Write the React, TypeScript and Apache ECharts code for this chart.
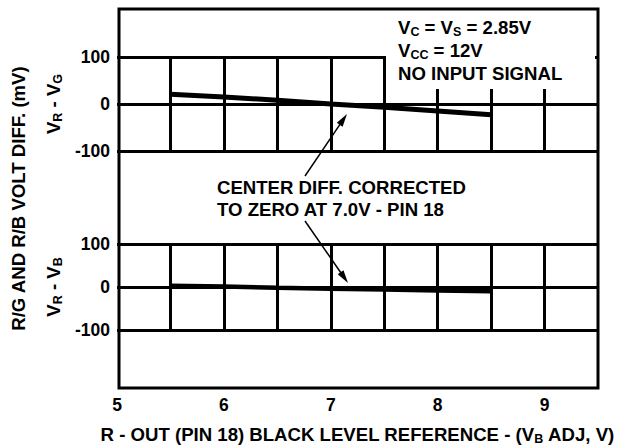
import React, { useEffect, useRef } from "react";
import * as echarts from "echarts";

// Data
const X_VALUES = [5.5, 6, 6.5, 7, 7.5, 8, 8.5];
const RG_DIFF = [21, 15, 8, 0, -7, -15, -23]; // V_R - V_G (mV)
const RB_DIFF = [3, 1, -2, -4, -6, -8, -10]; // V_R - V_B (mV)
const X_MIN = 5;
const X_MAX = 9.5;
const X_STEP = 0.5;
const Y_MIN = -100;
const Y_MAX = 100;
const Y_STEP = 100;

const FONT = "'Liberation Sans', Arial, Helvetica, sans-serif";

const richStyles = {
  a: { fontSize: 18.6, fontWeight: "bold", fontFamily: FONT, color: "#000", lineHeight: 22 },
  s: { fontSize: 12.5, fontWeight: "bold", fontFamily: FONT, color: "#000", lineHeight: 13, verticalAlign: "bottom" },
};

function arrow(x1: number, y1: number, x2: number, y2: number) {
  const L = 13;
  const w = 3.5;
  const dx = x2 - x1;
  const dy = y2 - y1;
  const len = Math.sqrt(dx * dx + dy * dy);
  const ux = dx / len;
  const uy = dy / len;
  const bx = x2 - ux * L;
  const by = y2 - uy * L;
  const px = -uy;
  const py = ux;
  return [
    {
      type: "line",
      z: 20,
      shape: { x1, y1, x2: bx + ux * 2, y2: by + uy * 2 },
      style: { stroke: "#000", lineWidth: 1.5 },
    },
    {
      type: "polygon",
      z: 20,
      shape: {
        points: [
          [x2, y2],
          [bx + px * w, by + py * w],
          [bx - px * w, by - py * w],
        ],
      },
      style: { fill: "#000" },
    },
  ];
}

function textLine(x: number, y: number, text: string) {
  return {
    type: "text",
    z: 20,
    x,
    y,
    style: {
      text,
      rich: richStyles,
      fontSize: 18.6,
      fontWeight: "bold",
      fontFamily: FONT,
      fill: "#000",
      align: "left",
      verticalAlign: "middle",
    },
  };
}

export default function App() {
  const ref = useRef<HTMLDivElement>(null);

  useEffect(() => {
    if (!ref.current) return;
    const chart = echarts.init(ref.current, undefined, { renderer: "svg" });

    const panelX = (gridIndex: number, showLabels: boolean) => ({
      type: "value",
      gridIndex,
      min: X_MIN,
      max: X_MAX,
      interval: X_STEP,
      axisLine: { show: false },
      axisTick: { show: false },
      axisLabel: {
        show: showLabels,
        margin: 66,
        fontSize: 17.5,
        fontWeight: "bold",
        fontFamily: FONT,
        color: "#000",
        formatter: (v: number) => (Math.abs(v - Math.round(v)) < 1e-9 && v < X_MAX ? String(v) : ""),
      },
      splitLine: {
        show: true,
        showMinLine: false,
        showMaxLine: false,
        lineStyle: { color: "#000", width: 3 },
      },
      ...(showLabels
        ? {
            name: "{a|R - OUT (PIN 18) BLACK LEVEL REFERENCE - (V}{s|B}{a| ADJ, V)}",
            nameLocation: "middle",
            nameGap: 93,
            nameTextStyle: { rich: richStyles },
          }
        : {}),
    });

    const panelY = (gridIndex: number, name: string) => ({
      type: "value",
      gridIndex,
      min: Y_MIN,
      max: Y_MAX,
      interval: Y_STEP,
      axisLine: { show: false },
      axisTick: { show: false },
      axisLabel: {
        margin: 7,
        fontSize: 17.5,
        fontWeight: "bold",
        fontFamily: FONT,
        color: "#000",
      },
      splitLine: { show: true, lineStyle: { color: "#000", width: 3 } },
      name,
      nameLocation: "middle",
      nameGap: 48,
      nameTextStyle: { rich: richStyles },
    });

    const option = {
      animation: false,
      backgroundColor: "#fff",
      textStyle: { fontFamily: FONT, fontWeight: "bold", color: "#000" },
      grid: [
        { left: 117, width: 481, top: 57, height: 94 },
        { left: 117, width: 481, top: 244, height: 94 },
        {
          left: 119,
          width: 479,
          top: 9,
          height: 379,
          show: true,
          borderColor: "#000",
          borderWidth: 3,
          backgroundColor: "transparent",
        },
      ],
      xAxis: [
        panelX(0, false),
        panelX(1, true),
        { type: "value", gridIndex: 2, min: 0, max: 1, show: false },
      ],
      yAxis: [
        panelY(0, "{a|V}{s|R}{a| - V}{s|G}"),
        panelY(1, "{a|V}{s|R}{a| - V}{s|B}"),
        {
          type: "value",
          gridIndex: 2,
          min: 0,
          max: 1,
          axisLine: { show: false },
          axisTick: { show: false },
          axisLabel: { show: false },
          splitLine: { show: false },
          name: "R/G AND R/B VOLT DIFF. (mV)",
          nameLocation: "middle",
          nameGap: 91,
          nameTextStyle: { fontSize: 18.6, fontWeight: "bold", fontFamily: FONT, color: "#000" },
        },
      ],
      series: [
        {
          type: "line",
          name: "VR - VG",
          xAxisIndex: 0,
          yAxisIndex: 0,
          data: X_VALUES.map((x, i) => [x, RG_DIFF[i]]),
          symbol: "none",
          lineStyle: { color: "#000", width: 5 },
          z: 5,
        },
        {
          type: "line",
          name: "VR - VB",
          xAxisIndex: 1,
          yAxisIndex: 1,
          data: X_VALUES.map((x, i) => [x, RB_DIFF[i]]),
          symbol: "none",
          lineStyle: { color: "#000", width: 4.5 },
          z: 5,
        },
      ],
      graphic: [
        {
          type: "rect",
          z: 10,
          shape: { x: 386, y: 12, width: 209, height: 77 },
          style: { fill: "#fff" },
        },
        textLine(398, 27, "{a|V}{s|C}{a| = V}{s|S}{a| = 2.85V}"),
        textLine(398, 50, "{a|V}{s|CC}{a| = 12V}"),
        textLine(398, 73, "{a|NO INPUT SIGNAL}"),
        textLine(217, 187, "{a|CENTER DIFF. CORRECTED}"),
        textLine(217, 209, "{a|TO ZERO AT 7.0V - PIN 18}"),
        ...arrow(305, 176, 347, 114),
        ...arrow(305, 221, 348, 283),
      ],
    };

    chart.setOption(option as any);
    return () => chart.dispose();
  }, []);

  return (
    <div
      ref={ref}
      style={{ position: "absolute", left: 0, top: 0, width: 617, height: 446 }}
    />
  );
}
